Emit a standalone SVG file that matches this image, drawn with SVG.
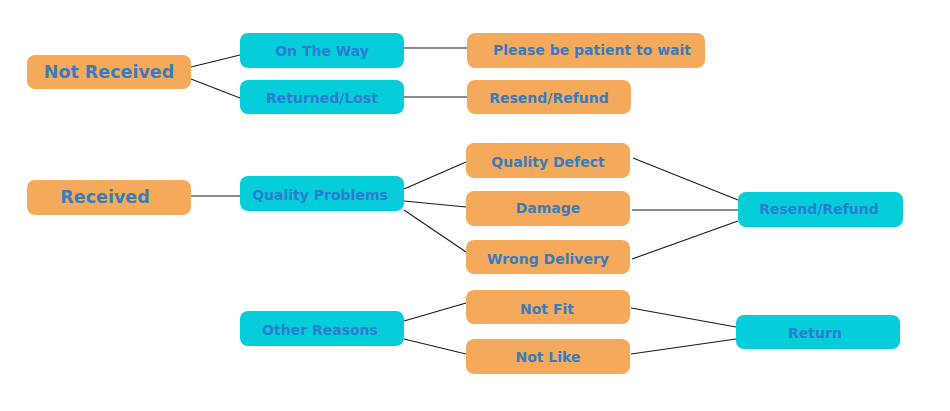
<svg xmlns="http://www.w3.org/2000/svg" width="950" height="411" viewBox="0 0 950 411">
<style>
.o{fill:#F4AA5A}
.c{fill:#06CDDA}
text{font-family:"DejaVu Sans",Verdana,sans-serif;font-weight:bold;font-size:14px;text-anchor:middle;dominant-baseline:central}
.to{fill:#3A7BBE}
.tc{fill:#2A7DD0}
.big{font-size:17.5px}
.ln{stroke:#1a1a1a;stroke-width:1.1;fill:none}
</style>
<rect width="950" height="411" fill="#ffffff"/>
<g id="connectors">
<line class="ln" x1="191" y1="67" x2="240" y2="55"/>
<line class="ln" x1="191" y1="79" x2="240" y2="98"/>
<line class="ln" x1="404" y1="48" x2="467" y2="48"/>
<line class="ln" x1="404" y1="97" x2="467" y2="97"/>
<line class="ln" x1="191" y1="196" x2="240" y2="196"/>
<line class="ln" x1="404" y1="189" x2="466" y2="162"/>
<line class="ln" x1="404" y1="201" x2="466" y2="207"/>
<line class="ln" x1="404" y1="210" x2="466" y2="252"/>
<line class="ln" x1="633" y1="158" x2="738" y2="200"/>
<line class="ln" x1="632" y1="210" x2="738" y2="210"/>
<line class="ln" x1="632" y1="259" x2="738" y2="221"/>
<line class="ln" x1="404" y1="321" x2="466" y2="303"/>
<line class="ln" x1="404" y1="339" x2="466" y2="354"/>
<line class="ln" x1="631" y1="308" x2="736" y2="327"/>
<line class="ln" x1="631" y1="354" x2="736" y2="339"/>
</g>
<g id="not-received"><rect class="o" x="27" y="55" width="164" height="34" rx="8"/><text class="to big" x="109" y="72">Not Received</text></g>
<g id="on-the-way"><rect class="c" x="240" y="33" width="164" height="35" rx="8"/><text class="tc" x="322" y="51">On The Way</text></g>
<g id="returned-lost"><rect class="c" x="240" y="80" width="164" height="34" rx="8"/><text class="tc" x="322" y="98">Returned/Lost</text></g>
<g id="please-wait"><rect class="o" x="467" y="33" width="238" height="35" rx="8"/><text class="to" x="592" y="50">Please be patient to wait</text></g>
<g id="resend-refund-1"><rect class="o" x="467" y="80" width="164" height="34" rx="8"/><text class="to" x="549" y="98">Resend/Refund</text></g>
<g id="received"><rect class="o" x="27" y="180" width="164" height="35" rx="8"/><text class="to big" x="105" y="197">Received</text></g>
<g id="quality-problems"><rect class="c" x="240" y="176" width="164" height="35" rx="8"/><text class="tc" x="320" y="195">Quality Problems</text></g>
<g id="quality-defect"><rect class="o" x="466" y="143" width="164" height="35" rx="8"/><text class="to" x="548" y="162">Quality Defect</text></g>
<g id="damage"><rect class="o" x="466" y="191" width="164" height="35" rx="8"/><text class="to" x="548" y="208">Damage</text></g>
<g id="wrong-delivery"><rect class="o" x="466" y="240" width="164" height="34" rx="8"/><text class="to" x="548" y="259">Wrong Delivery</text></g>
<g id="resend-refund-2"><rect class="c" x="738" y="192" width="165" height="35" rx="8"/><text class="tc" x="819" y="209">Resend/Refund</text></g>
<g id="other-reasons"><rect class="c" x="240" y="311" width="164" height="35" rx="8"/><text class="tc" x="320" y="330">Other Reasons</text></g>
<g id="not-fit"><rect class="o" x="466" y="290" width="164" height="34" rx="8"/><text class="to" x="547" y="309">Not Fit</text></g>
<g id="not-like"><rect class="o" x="466" y="339" width="164" height="35" rx="8"/><text class="to" x="548" y="357">Not Like</text></g>
<g id="return"><rect class="c" x="736" y="315" width="164" height="34" rx="8"/><text class="tc" x="815" y="333">Return</text></g>
</svg>
